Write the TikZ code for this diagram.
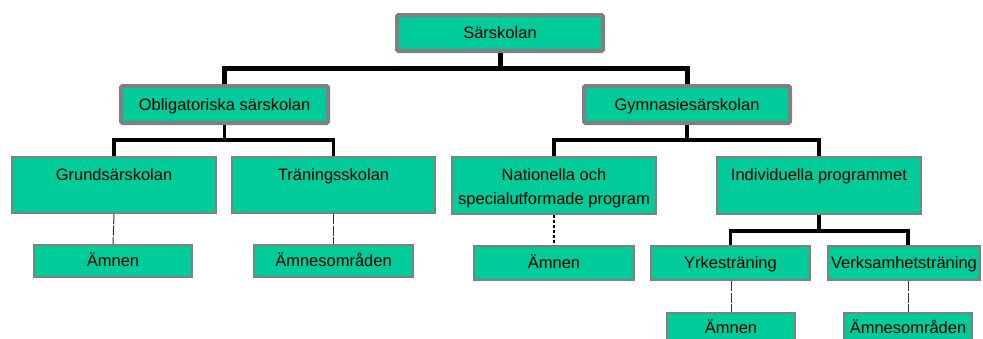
\documentclass[tikz,border=0pt]{standalone}
\usepackage{fontspec}
\setmainfont{Liberation Sans}
\definecolor{grn}{HTML}{00CC99}
\definecolor{boxgray}{HTML}{808080}
\definecolor{thinline}{HTML}{333333}
\begin{document}
\begin{tikzpicture}[x=1pt,y=-1pt,
  bigbox/.style={draw=boxgray,line width=4pt,fill=grn,rounded corners=1.5pt,inner sep=0pt,
    font=\fontsize{16.5}{20}\selectfont,text height=11.8pt,text depth=0pt},
  box/.style={draw=boxgray,line width=2pt,fill=grn,inner sep=0pt,
    font=\fontsize{16.5}{20}\selectfont,text height=11.8pt,text depth=0pt},
  lbl/.style={anchor=base,inner sep=0pt,font=\fontsize{16.5}{20}\selectfont},
  conA/.style={line width=5pt,draw=black},
  conB/.style={line width=3.5pt,draw=black},
  dotcon/.style={line width=2.5pt,draw=black,dash pattern=on 3pt off 2pt},
  thincon/.style={line width=1pt,draw=thinline,dash pattern=on 10pt off 1.5pt}]
\useasboundingbox (0,0) rectangle (983,338);
\fill[white] (0,0) rectangle (983,338);

% connectors first
\coordinate (j1) at (500,68);
\coordinate (j2) at (224.5,140);
\coordinate (j3) at (687,140);
\coordinate (j4) at (819,231);

% level 1
\node[bigbox,minimum width=206pt,minimum height=36pt] (sar) at (500,33) {Särskolan};
\node[bigbox,minimum width=207pt,minimum height=37pt] (obl) at (224.5,104.5) {Obligatoriska särskolan};
\node[bigbox,minimum width=206pt,minimum height=37pt] (gym) at (687,104.5) {Gymnasiesärskolan};

% level 2 boxes
\node[box,minimum width=204pt,minimum height=56pt] (grund) at (114,185) {};
\node[box,minimum width=203pt,minimum height=56pt] (tran) at (333.5,185) {};
\node[box,minimum width=204pt,minimum height=57pt] (nat) at (554,185.5) {};
\node[box,minimum width=204pt,minimum height=57pt] (ind) at (819,185.5) {};
\node[lbl] (grundt) at (114,180.5) {Grundsärskolan};
\node[lbl] (trant) at (333.5,180.5) {Träningsskolan};
\node[lbl] (natt1) at (554,180.5) {Nationella och};
\node[lbl] (natt2) at (554,204) {specialutformade program};
\node[lbl] (indt) at (819,180.5) {Individuella programmet};

% level 3
\node[box,minimum width=158pt,minimum height=32pt] (amn1) at (113,261) {Ämnen};
\node[box,minimum width=159pt,minimum height=32pt] (omr1) at (333.5,261) {Ämnesområden};
\node[box,minimum width=160pt,minimum height=34pt] (amn2) at (554,263) {Ämnen};
\node[box,minimum width=159pt,minimum height=34pt] (yrk) at (730.5,263) {Yrkesträning};
\node[box,minimum width=152pt,minimum height=34pt] (verk) at (904,263) {Verksamhetsträning};

% level 4
\node[box,minimum width=128pt,minimum height=30pt] (amn3) at (731,328) {Ämnen};
\node[box,minimum width=128pt,minimum height=30pt] (omr2) at (908,328) {Ämnesområden};

% connectors
\draw[conA] (sar.south) -- (j1);
\draw[conA] (obl.north) |- (j1) -| (gym.north);
\draw[conB] (obl.south) -- (j2);
\draw[conB] (grund.north) |- (j2) -| (tran.north);
\draw[conB] (gym.south) -- (j3);
\draw[conB] (nat.north) |- (j3) -| (ind.north);
\draw[conB] (ind.south) -- (j4);
\draw[conB] (yrk.north) |- (j4) -| ([xshift=4pt]verk.north);

\draw[thincon] (grund.south) -- (amn1.north);
\draw[thincon] (tran.south) -- (omr1.north);
\draw[dotcon] (nat.south) -- (amn2.north);
\draw[thincon] ([xshift=0.5pt]yrk.south) -- (amn3.north);
\draw[thincon] ([xshift=4pt]verk.south) -- (omr2.north);
\end{tikzpicture}
\end{document}
